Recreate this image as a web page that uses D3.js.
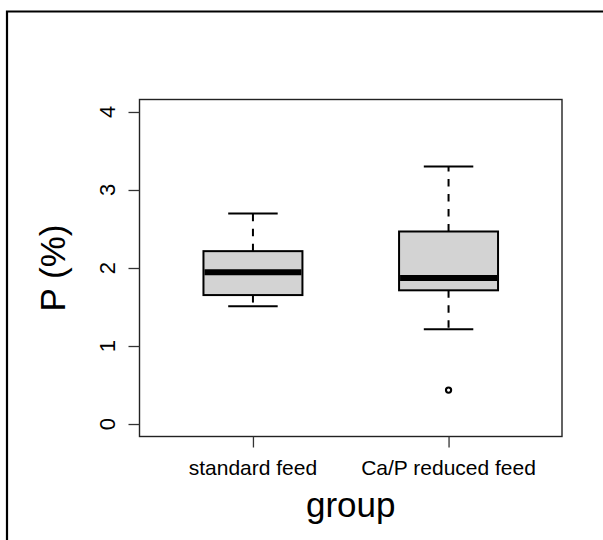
<!DOCTYPE html>
<html>
<head>
<meta charset="utf-8">
<script src="https://cdn.jsdelivr.net/npm/d3@7"></script>
<style>
  body { margin: 0; background: #fff; }
  svg text { font-family: "Liberation Sans", Arial, sans-serif; fill: #000; }
</style>
</head>
<body>
<script>
// groups and their five-number summaries
const groups      = ["standard feed", "Ca/P reduced feed"];
const whiskerLow  = [1.51, 1.215];
const q1          = [1.653, 1.714];
const median      = [1.944, 1.871];
const q3          = [2.216, 2.468];
const whiskerHigh = [2.70, 3.30];
const outliers    = [[], [0.435]];
const yTicks      = [0, 1, 2, 3, 4];

function drawChart() {
    const width = 603;
    const height = 540;
    // plot frame
    const left = 139.5, right = 562, top = 99.5, bottom = 436.5;
    const boxHalf = 0.253;   // in x units
    const tickLen = 11;

    const x = d3.scaleLinear().domain([0.42, 2.58]).range([left, right]);
    const y = d3.scaleLinear().domain([-0.16, 4.16]).range([bottom, top]);

    const svg = d3.select("body").append("svg")
        .attr("width", width)
        .attr("height", height);

    // outer figure frame (only top and left are visible)
    svg.append("path")
        .attr("d", `M7,${height} V11.5 H${width}`)
        .attr("fill", "none")
        .attr("stroke", "#000")
        .attr("stroke-width", 2.2);

    const data = groups.map((g, i) => ({
        name: g, pos: i + 1,
        lo: whiskerLow[i], q1: q1[i], med: median[i], q3: q3[i], hi: whiskerHigh[i],
        out: outliers[i]
    }));

    const box = svg.append("g")
        .selectAll("g")
        .data(data)
        .enter()
        .append("g");

    // dashed whiskers
    box.append("line")
        .attr("x1", d => x(d.pos)).attr("x2", d => x(d.pos))
        .attr("y1", d => y(d.q3)).attr("y2", d => y(d.hi))
        .attr("stroke", "#000").attr("stroke-width", 2).attr("stroke-dasharray", "7.5,7.5");
    box.append("line")
        .attr("x1", d => x(d.pos)).attr("x2", d => x(d.pos))
        .attr("y1", d => y(d.q1)).attr("y2", d => y(d.lo))
        .attr("stroke", "#000").attr("stroke-width", 2).attr("stroke-dasharray", "7.5,7.5");

    // staples
    ["lo", "hi"].forEach(k => {
        box.append("line")
            .attr("x1", d => x(d.pos - boxHalf / 2)).attr("x2", d => x(d.pos + boxHalf / 2))
            .attr("y1", d => y(d[k])).attr("y2", d => y(d[k]))
            .attr("stroke", "#000").attr("stroke-width", 2);
    });

    // boxes
    box.append("rect")
        .attr("x", d => x(d.pos - boxHalf))
        .attr("width", d => x(d.pos + boxHalf) - x(d.pos - boxHalf))
        .attr("y", d => y(d.q3))
        .attr("height", d => y(d.q1) - y(d.q3))
        .attr("fill", "#d3d3d3")
        .attr("stroke", "#000")
        .attr("stroke-width", 2);

    // medians
    box.append("line")
        .attr("x1", d => x(d.pos - boxHalf) + 1).attr("x2", d => x(d.pos + boxHalf) - 1)
        .attr("y1", d => y(d.med)).attr("y2", d => y(d.med))
        .attr("stroke", "#000").attr("stroke-width", 6);

    // outliers
    box.selectAll("circle")
        .data(d => d.out.map(v => ({ pos: d.pos, v })))
        .enter()
        .append("circle")
        .attr("cx", d => x(d.pos))
        .attr("cy", d => y(d.v))
        .attr("r", 2.6)
        .attr("fill", "none")
        .attr("stroke", "#000")
        .attr("stroke-width", 2.1);

    // plot frame
    svg.append("rect")
        .attr("x", left).attr("y", top)
        .attr("width", right - left).attr("height", bottom - top)
        .attr("fill", "none")
        .attr("stroke", "#222")
        .attr("stroke-width", 1.4);

    // y axis
    const yAxis = d3.axisLeft(y).tickValues(yTicks).tickSize(tickLen).tickFormat("");
    svg.append("g")
        .attr("transform", `translate(${left},0)`)
        .call(yAxis)
        .call(g => g.select(".domain").remove())
        .call(g => g.selectAll("line").attr("stroke", "#333").attr("stroke-width", 1.3));

    svg.append("g").selectAll("text")
        .data(yTicks)
        .enter()
        .append("text")
        .attr("transform", d => `translate(115,${y(d)}) rotate(-90)`)
        .attr("text-anchor", "middle")
        .attr("font-size", 22)
        .text(d => d);

    // x axis
    const xAxis = d3.axisBottom(x).tickValues(data.map(d => d.pos)).tickSize(tickLen).tickFormat("");
    svg.append("g")
        .attr("transform", `translate(0,${bottom})`)
        .call(xAxis)
        .call(g => g.select(".domain").remove())
        .call(g => g.selectAll("line").attr("stroke", "#333").attr("stroke-width", 1.3));

    svg.append("g").selectAll("text")
        .data(data)
        .enter()
        .append("text")
        .attr("x", d => x(d.pos))
        .attr("y", 475)
        .attr("text-anchor", "middle")
        .attr("font-size", 21)
        .text(d => d.name);

    // axis titles
    svg.append("text")
        .attr("x", (left + right) / 2)
        .attr("y", 517)
        .attr("text-anchor", "middle")
        .attr("font-size", 35)
        .text("group");

    svg.append("text")
        .attr("transform", `translate(65,${(top + bottom) / 2}) rotate(-90)`)
        .attr("text-anchor", "middle")
        .attr("font-size", 35)
        .text("P (%)");
}

drawChart();
</script>
</body>
</html>
